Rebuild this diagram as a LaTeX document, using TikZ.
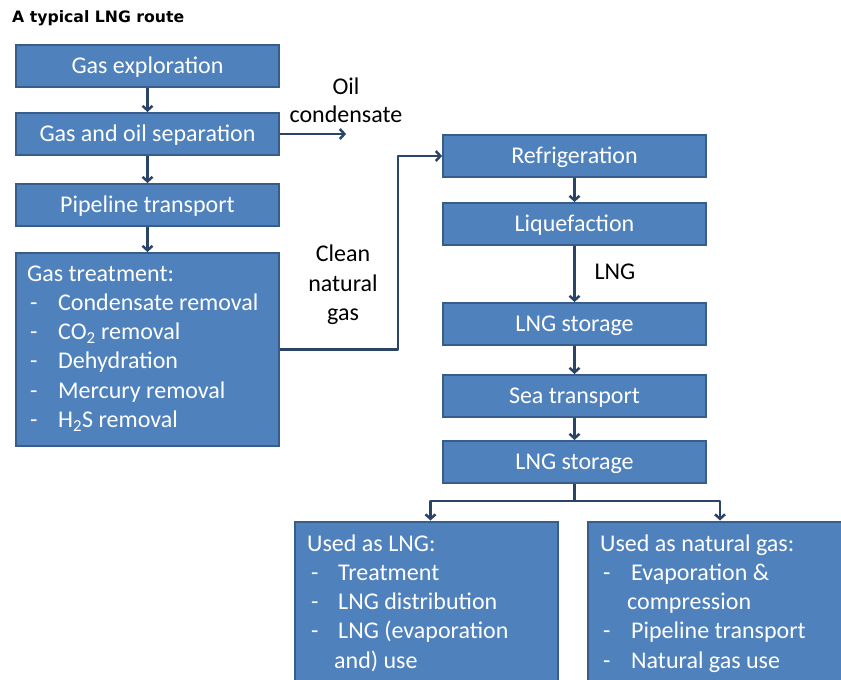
\documentclass[tikz,border=0pt]{standalone}
\usepackage{fontspec}
\setmainfont{Carlito}
\newfontfamily\titlefont{DejaVu Sans}
\usetikzlibrary{arrows.meta,calc}
\definecolor{boxblue}{HTML}{4F81BD}
\definecolor{boxedge}{HTML}{385D8A}
\definecolor{arrowc}{HTML}{2A4468}
\begin{document}
\begin{tikzpicture}[x=1pt,y=-1pt,
 box/.style={draw=boxedge, fill=boxblue, line width=2pt, text=white, inner sep=0pt, minimum width=263pt, minimum height=42pt, text height=19.5pt, text depth=4pt, font=\fontsize{24}{29.3}\selectfont},
 arr/.style={draw=arrowc, line width=2.3pt, line join=round, -{Straight Barb[length=4.5pt,width=10pt,line width=2.5pt]}},
 ln/.style={draw=arrowc, line width=2.3pt},
 lbl/.style={font=\fontsize{24}{28}\selectfont, text=black, inner sep=0pt},
 wtxt/.style={font=\fontsize{24}{29.3}\selectfont, text=white, inner sep=0pt, anchor=base west}]
\useasboundingbox (0,0) rectangle (841,680);
\clip (0,0) rectangle (841,680);

\node[font=\titlefont\bfseries\fontsize{15.7}{18}\selectfont, anchor=base west, inner sep=0pt] (title) at (12,23) {A typical LNG route};

% left column
\node[box] (b1) at (147.5,66) {Gas exploration};
\node[box] (b2) at (147.5,134) {Gas and oil separation};
\node[box] (b3) at (147.5,205) {Pipeline transport};
\node[box, minimum height=193pt] (b4) at (147.5,349.5) {};
\node[wtxt] (t0) at (27,281) {Gas treatment:};
\foreach \i/\t in {1/Condensate removal,2/CO\textsubscript{2} removal,3/Dehydration,4/Mercury removal,5/H\textsubscript{2}S removal}{
  \node[wtxt] (d\i) at (30,{281+29.3*\i}) {-};
  \node[wtxt] (t\i) at (58,{281+29.3*\i}) {\t};
}

% right column
\node[box] (r1) at (574.5,156) {Refrigeration};
\node[box] (r2) at (574.5,224) {Liquefaction};
\node[box] (r3) at (574.5,324) {LNG storage};
\node[box] (r4) at (574.5,396) {Sea transport};
\node[box] (r5) at (574.5,462) {LNG storage};

% bottom boxes
\node[box, minimum width=263pt, minimum height=180pt] (u1) at (426.5,611.5) {};
\node[box, minimum width=272pt, minimum height=180pt] (u2) at (724,611.5) {};
\node[wtxt] (ua) at (307,551) {Used as LNG:};
\node[wtxt] (ud1) at (311,580.3) {-};
\node[wtxt] (ui1) at (338,580.3) {Treatment};
\node[wtxt] (ud2) at (311,609.6) {-};
\node[wtxt] (ui2) at (338,609.6) {LNG distribution};
\node[wtxt] (ud3) at (311,638.9) {-};
\node[wtxt] (ui3) at (338,638.9) {LNG (evaporation};
\node[wtxt] (ui4) at (334,668.2) {and) use};
\node[wtxt] (va) at (600,551) {Used as natural gas:};
\node[wtxt] (vd1) at (603,580.3) {-};
\node[wtxt] (vi1) at (631,580.3) {Evaporation \&};
\node[wtxt] (vi2) at (627,609.6) {compression};
\node[wtxt] (vd3) at (603,638.9) {-};
\node[wtxt] (vi3) at (631,638.9) {Pipeline transport};
\node[wtxt] (vd4) at (603,668.2) {-};
\node[wtxt] (vi4) at (631,668.2) {Natural gas use};

% labels
\node[lbl, align=center] (oc) at (346,100) {Oil\\condensate};
\node[lbl, align=center, font=\fontsize{24}{29.3}\selectfont] (cng) at (343,285) {Clean\\natural\\gas};
\node[lbl] (lnglab) at (615,272) {LNG};

% connectors
\draw[arr] (b1) -- (b2);
\draw[arr] (b2) -- (b3);
\draw[arr] (b3) -- (b4);
\coordinate (ocend) at (346,134);
\draw[arr] (b2.east) -- (ocend);
\coordinate (bend) at (398,349.5);
\draw[arr] (b4.east) -- (bend) |- (r1.west);
\draw[arr] (r1) -- (r2);
\draw[arr] (r2) -- (r3);
\draw[arr] (r3) -- (r4);
\draw[arr] (r4) -- (r5);
\coordinate (bj) at (574.5,501);
\draw[ln] (r5.south) -- (bj);
\draw[arr] (bj) -| ([xshift=4pt]u1.north);
\draw[arr] (bj) -| ([xshift=-4pt]u2.north);
\end{tikzpicture}
\end{document}
